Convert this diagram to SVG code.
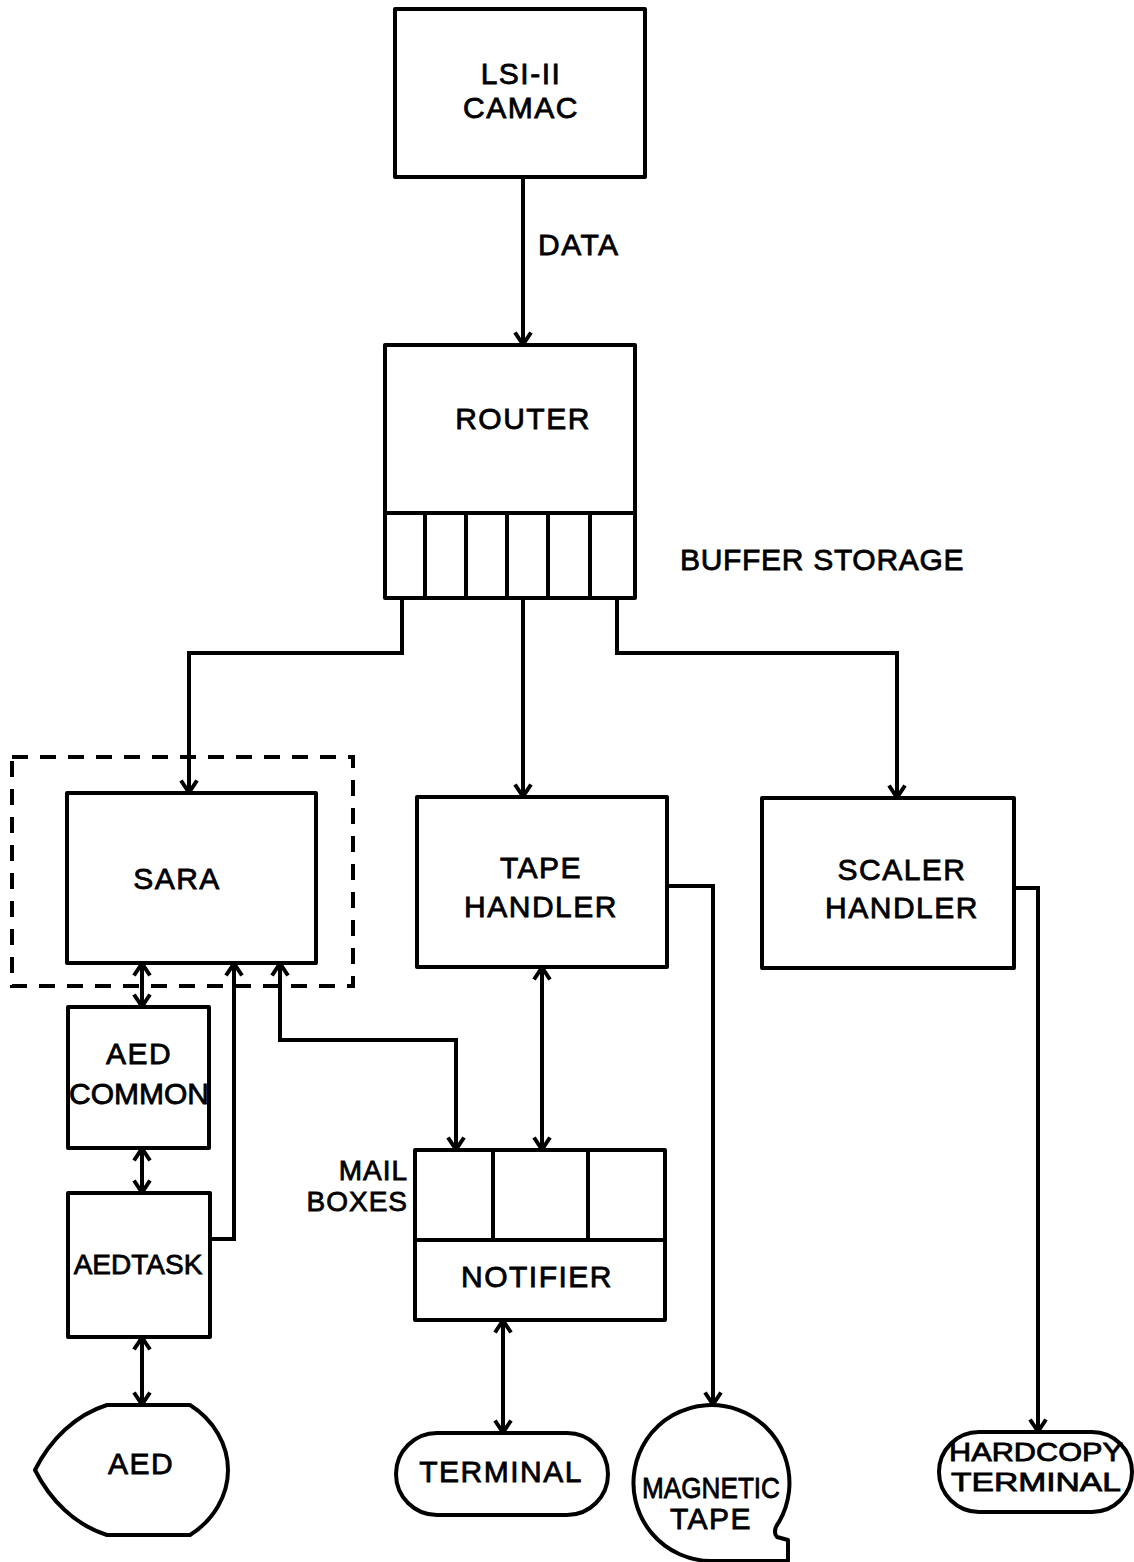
<svg xmlns="http://www.w3.org/2000/svg" width="1134" height="1562" viewBox="0 0 1134 1562">
<style>
.box{fill:none;stroke:#000;stroke-width:4;stroke-linejoin:round}
.ln{fill:none;stroke:#000;stroke-width:4}
.dash{fill:none;stroke:#000;stroke-width:4;stroke-dasharray:16 12}
text{font-family:"Liberation Sans",Arial,sans-serif;font-size:30px;fill:#000;stroke:#000;stroke-width:0.8px;letter-spacing:1.5px}
.c{text-anchor:middle}
.e{text-anchor:end}
</style>
<defs>
<marker id="arr" viewBox="-15 -10 17 20" refX="0.5" refY="0" markerWidth="17" markerHeight="20" markerUnits="userSpaceOnUse" orient="auto-start-reverse">
<path d="M-12,-8 L0,0 L-12,8" fill="none" stroke="#000" stroke-width="4"/>
</marker>
</defs>
<rect width="1134" height="1562" fill="#fff"/>

<g id="lsi">
<rect class="box" x="395" y="9" width="250" height="168"/>
<text class="c" x="521" y="84">LSI-II</text>
<text class="c" x="521" y="118">CAMAC</text>
</g>

<g id="router">
<rect class="box" x="385" y="345" width="250" height="253"/>
<line class="ln" x1="385" y1="513" x2="635" y2="513"/>
<line class="ln" x1="425" y1="513" x2="425" y2="598"/>
<line class="ln" x1="466" y1="513" x2="466" y2="598"/>
<line class="ln" x1="507" y1="513" x2="507" y2="598"/>
<line class="ln" x1="548" y1="513" x2="548" y2="598"/>
<line class="ln" x1="590" y1="513" x2="590" y2="598"/>
<text class="c" x="523" y="429">ROUTER</text>
<text x="680" y="570" textLength="285">BUFFER STORAGE</text>
</g>

<g id="sara">
<rect class="dash" x="12" y="757" width="341" height="229"/>
<rect class="box" x="67" y="793" width="249" height="170"/>
<text class="c" x="177" y="889">SARA</text>
</g>

<g id="aedcommon">
<rect class="box" x="68" y="1007" width="141" height="141"/>
<text class="c" x="139" y="1064">AED</text>
<text class="c" x="139" y="1104" style="letter-spacing:0">COMMON</text>
</g>

<g id="aedtask">
<rect class="box" x="68" y="1193" width="142" height="144"/>
<text class="c" x="138" y="1274" style="font-size:28px;letter-spacing:0">AEDTASK</text>
</g>

<g id="aed">
<path class="box" d="M107,1405 L190,1405 C214,1420 228,1445 228,1470 C228,1495 214,1520 190,1535 L107,1535 C75,1525 50,1500 35,1470 C50,1440 75,1415 107,1405 Z"/>
<text class="c" x="141" y="1474">AED</text>
</g>

<g id="tape">
<rect class="box" x="417" y="797" width="250" height="170"/>
<text class="c" x="541" y="878">TAPE</text>
<text class="c" x="541" y="917">HANDLER</text>
</g>

<g id="scaler">
<rect class="box" x="762" y="798" width="252" height="170"/>
<text class="c" x="902" y="880">SCALER</text>
<text class="c" x="902" y="918">HANDLER</text>
</g>

<g id="notifier">
<rect class="box" x="415" y="1150" width="250" height="170"/>
<line class="ln" x1="415" y1="1240" x2="665" y2="1240"/>
<line class="ln" x1="493" y1="1150" x2="493" y2="1240"/>
<line class="ln" x1="588" y1="1150" x2="588" y2="1240"/>
<text class="c" x="537" y="1287">NOTIFIER</text>
<text class="e" x="408" y="1180" style="font-size:28px;letter-spacing:1px">MAIL</text>
<text class="e" x="408" y="1211" style="font-size:28px;letter-spacing:1px">BOXES</text>
</g>

<g id="terminal">
<rect class="box" x="396" y="1433" width="212" height="82" rx="41"/>
<text class="c" x="501" y="1482">TERMINAL</text>
</g>

<g id="magtape">
<path class="box" d="M779,1522 A78,78 0 1 0 711,1561 L788,1561 L788,1540 L777,1537 Q772,1531 779,1522 Z"/>
<text class="c" x="711" y="1498" textLength="138" lengthAdjust="spacingAndGlyphs" style="letter-spacing:0">MAGNETIC</text>
<text class="c" x="711" y="1529">TAPE</text>
</g>

<g id="hardcopy">
<rect class="box" x="939" y="1432" width="193" height="80" rx="40"/>
<text class="c" x="1036" y="1461" textLength="174" lengthAdjust="spacingAndGlyphs" style="font-size:26px;letter-spacing:0">HARDCOPY</text>
<text class="c" x="1036" y="1491" textLength="170" lengthAdjust="spacingAndGlyphs" style="font-size:26px;letter-spacing:0">TERMINAL</text>
</g>

<g id="connectors">
<path class="ln" d="M523,177 L523,345" marker-end="url(#arr)"/>
<text x="538" y="255">DATA</text>
<path class="ln" d="M402,598 L402,653 L189,653 L189,793" marker-end="url(#arr)"/>
<path class="ln" d="M523,598 L523,797" marker-end="url(#arr)"/>
<path class="ln" d="M617,598 L617,653 L897,653 L897,798" marker-end="url(#arr)"/>
<path class="ln" d="M142,963 L142,1007" marker-start="url(#arr)" marker-end="url(#arr)"/>
<path class="ln" d="M142,1148 L142,1193" marker-start="url(#arr)" marker-end="url(#arr)"/>
<path class="ln" d="M142,1337 L142,1405" marker-start="url(#arr)" marker-end="url(#arr)"/>
<path class="ln" d="M210,1239 L234,1239 L234,963" marker-end="url(#arr)"/>
<path class="ln" d="M280,963 L280,1040 L456,1040 L456,1150" marker-start="url(#arr)" marker-end="url(#arr)"/>
<path class="ln" d="M542,967 L542,1150" marker-start="url(#arr)" marker-end="url(#arr)"/>
<path class="ln" d="M503,1320 L503,1433" marker-start="url(#arr)" marker-end="url(#arr)"/>
<path class="ln" d="M667,886 L713,886 L713,1405" marker-end="url(#arr)"/>
<path class="ln" d="M1014,888 L1038,888 L1038,1432" marker-end="url(#arr)"/>
</g>
</svg>
